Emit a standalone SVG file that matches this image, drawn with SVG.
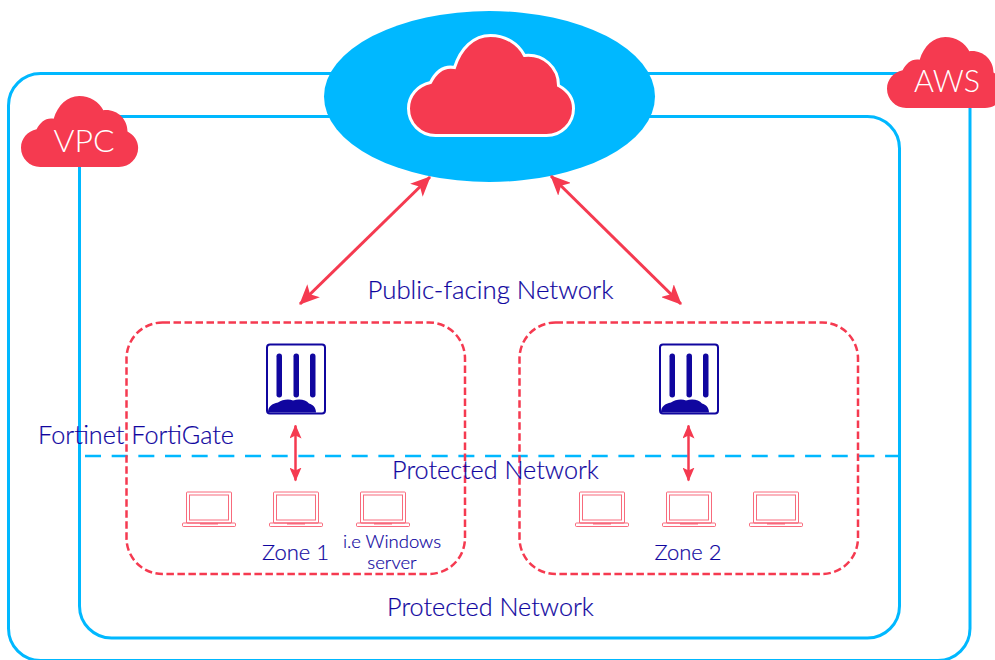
<svg xmlns="http://www.w3.org/2000/svg" width="995" height="660" viewBox="0 0 995 660">
<style>
text{font-family:"Lato","Liberation Sans",sans-serif;fill:#10069f;font-weight:300}
.frame{fill:none;stroke:#00b8ff;stroke-width:3}
.zone{fill:none;stroke:#f53a50;stroke-width:2.500;stroke-dasharray:7.500 3.500}
.cloud{fill:#f53a50}
.link{stroke:#f53a50;stroke-width:3;fill:none;marker-start:url(#ah);marker-end:url(#ah)}
.short{stroke:#f53a50;stroke-width:2.500;fill:none;marker-start:url(#as);marker-end:url(#as)}
.lap{fill:none;stroke:#f53a50;stroke-width:1;opacity:.75}
.fg{fill:#10069f}
.lbl{font-size:25.200px;text-anchor:middle;stroke:#10069f;stroke-width:.2px}
.cl{font-size:32px;fill:#fff;text-anchor:middle}
</style>
<defs>
<marker id="ah" viewBox="0 0 20 18" refX="19" refY="9" markerWidth="20" markerHeight="18" markerUnits="userSpaceOnUse" orient="auto-start-reverse"><path d="M0 0L20 9L0 18L5 9Z" fill="#f53a50"/></marker>
<marker id="as" viewBox="0 0 14 12" refX="13" refY="6" markerWidth="14" markerHeight="12" markerUnits="userSpaceOnUse" orient="auto-start-reverse"><path d="M0 0L14 6L0 12L3 6Z" fill="#f53a50"/></marker>
<path id="c" d="M27 100C12 100 0 88 0 73C0 60 9 50 22 47C27 37 35 30 46 32C52 13 65 0 82 0C97 0 110 8 116 20C135 18 150 32 150 50C159 55 165 63 165 73C165 88 153 100 138 100Z"/>
<g id="laptop"><rect x="4.500" y="0.500" width="45" height="31" rx="1" class="lap"/><rect x="7.500" y="3.500" width="39" height="25" class="lap"/><rect x="0.500" y="31.500" width="53" height="3.500" rx="1" class="lap"/><path d="M18 32.500H36" class="lap"/></g>
<g id="fw"><rect x="0" y="0" width="58" height="69" rx="3" fill="#fff" stroke="#10069f" stroke-width="2"/><rect x="9.500" y="9" width="5.500" height="44" rx="2.700" class="fg"/><rect x="26.500" y="9" width="5.500" height="44" rx="2.700" class="fg"/><rect x="43" y="9" width="5.500" height="44" rx="2.700" class="fg"/><path d="M1 68C1 62 5 59 11 58C15 55 22 54 26 56C32 54 39 55 42 59C46 60 49 63 49 68Z" class="fg"/></g>
</defs>
<g id="aws-frame"><rect class="frame" x="8.500" y="73.500" width="961.500" height="587" rx="32"/></g>
<g id="vpc-frame"><rect class="frame" x="79.500" y="116.500" width="820" height="521.500" rx="32"/></g>
<g id="protected-line"><path d="M85 456H900" stroke="#00b8ff" stroke-width="2.500" stroke-dasharray="16 10.670" fill="none"/></g>
<g id="internet"><ellipse cx="489.500" cy="96.500" rx="165.500" ry="85.500" fill="#00b8ff"/><use href="#c" x="408.500" y="35.500" class="cloud" stroke="#fff" stroke-width="3"/></g>
<g id="vpc-cloud"><use href="#c" transform="translate(21 96) scale(.71)" class="cloud"/><text class="cl" x="84" y="152">VPC</text></g>
<g id="aws-cloud"><use href="#c" transform="translate(887 37) scale(.71)" class="cloud"/><text class="cl" x="947" y="92" style="font-size:30.500px">AWS</text></g>
<g id="zone1"><rect class="zone" x="126.500" y="322.500" width="338.500" height="251.500" rx="36"/></g>
<g id="zone2"><rect class="zone" x="519.500" y="322.500" width="338.500" height="251.500" rx="36"/></g>
<g id="connectors">
<path class="link" d="M430 177L300 304"/>
<path class="link" d="M551 176L681 304"/>
<path class="short" d="M295.500 425.500V480.500"/>
<path class="short" d="M688.500 425.500V480.500"/>
</g>
<g id="fg1"><use href="#fw" x="267" y="344.500"/></g>
<g id="fg2"><use href="#fw" x="660" y="344.500"/></g>
<g id="l1"><use href="#laptop" x="182" y="491.500"/></g>
<g id="l2"><use href="#laptop" x="269" y="491.500"/></g>
<g id="l3"><use href="#laptop" x="356" y="491.500"/></g>
<g id="l4"><use href="#laptop" x="575" y="491.500"/></g>
<g id="l5"><use href="#laptop" x="662" y="491.500"/></g>
<g id="l6"><use href="#laptop" x="749" y="491.500"/></g>
<g id="labels">
<text class="lbl" x="490.500" y="299" style="font-size:25.800px">Public-facing Network</text>
<text class="lbl" x="136" y="444">Fortinet FortiGate</text>
<text class="lbl" x="495.500" y="479">Protected Network</text>
<text class="lbl" x="295.500" y="560" style="font-size:22px">Zone 1</text>
<text class="lbl" x="688" y="560" style="font-size:22px">Zone 2</text>
<text class="lbl" x="392" y="548" style="font-size:18.500px">i.e Windows</text>
<text class="lbl" x="392" y="569" style="font-size:18.500px">server</text>
<text class="lbl" x="490.500" y="616">Protected Network</text>
</g>
</svg>
